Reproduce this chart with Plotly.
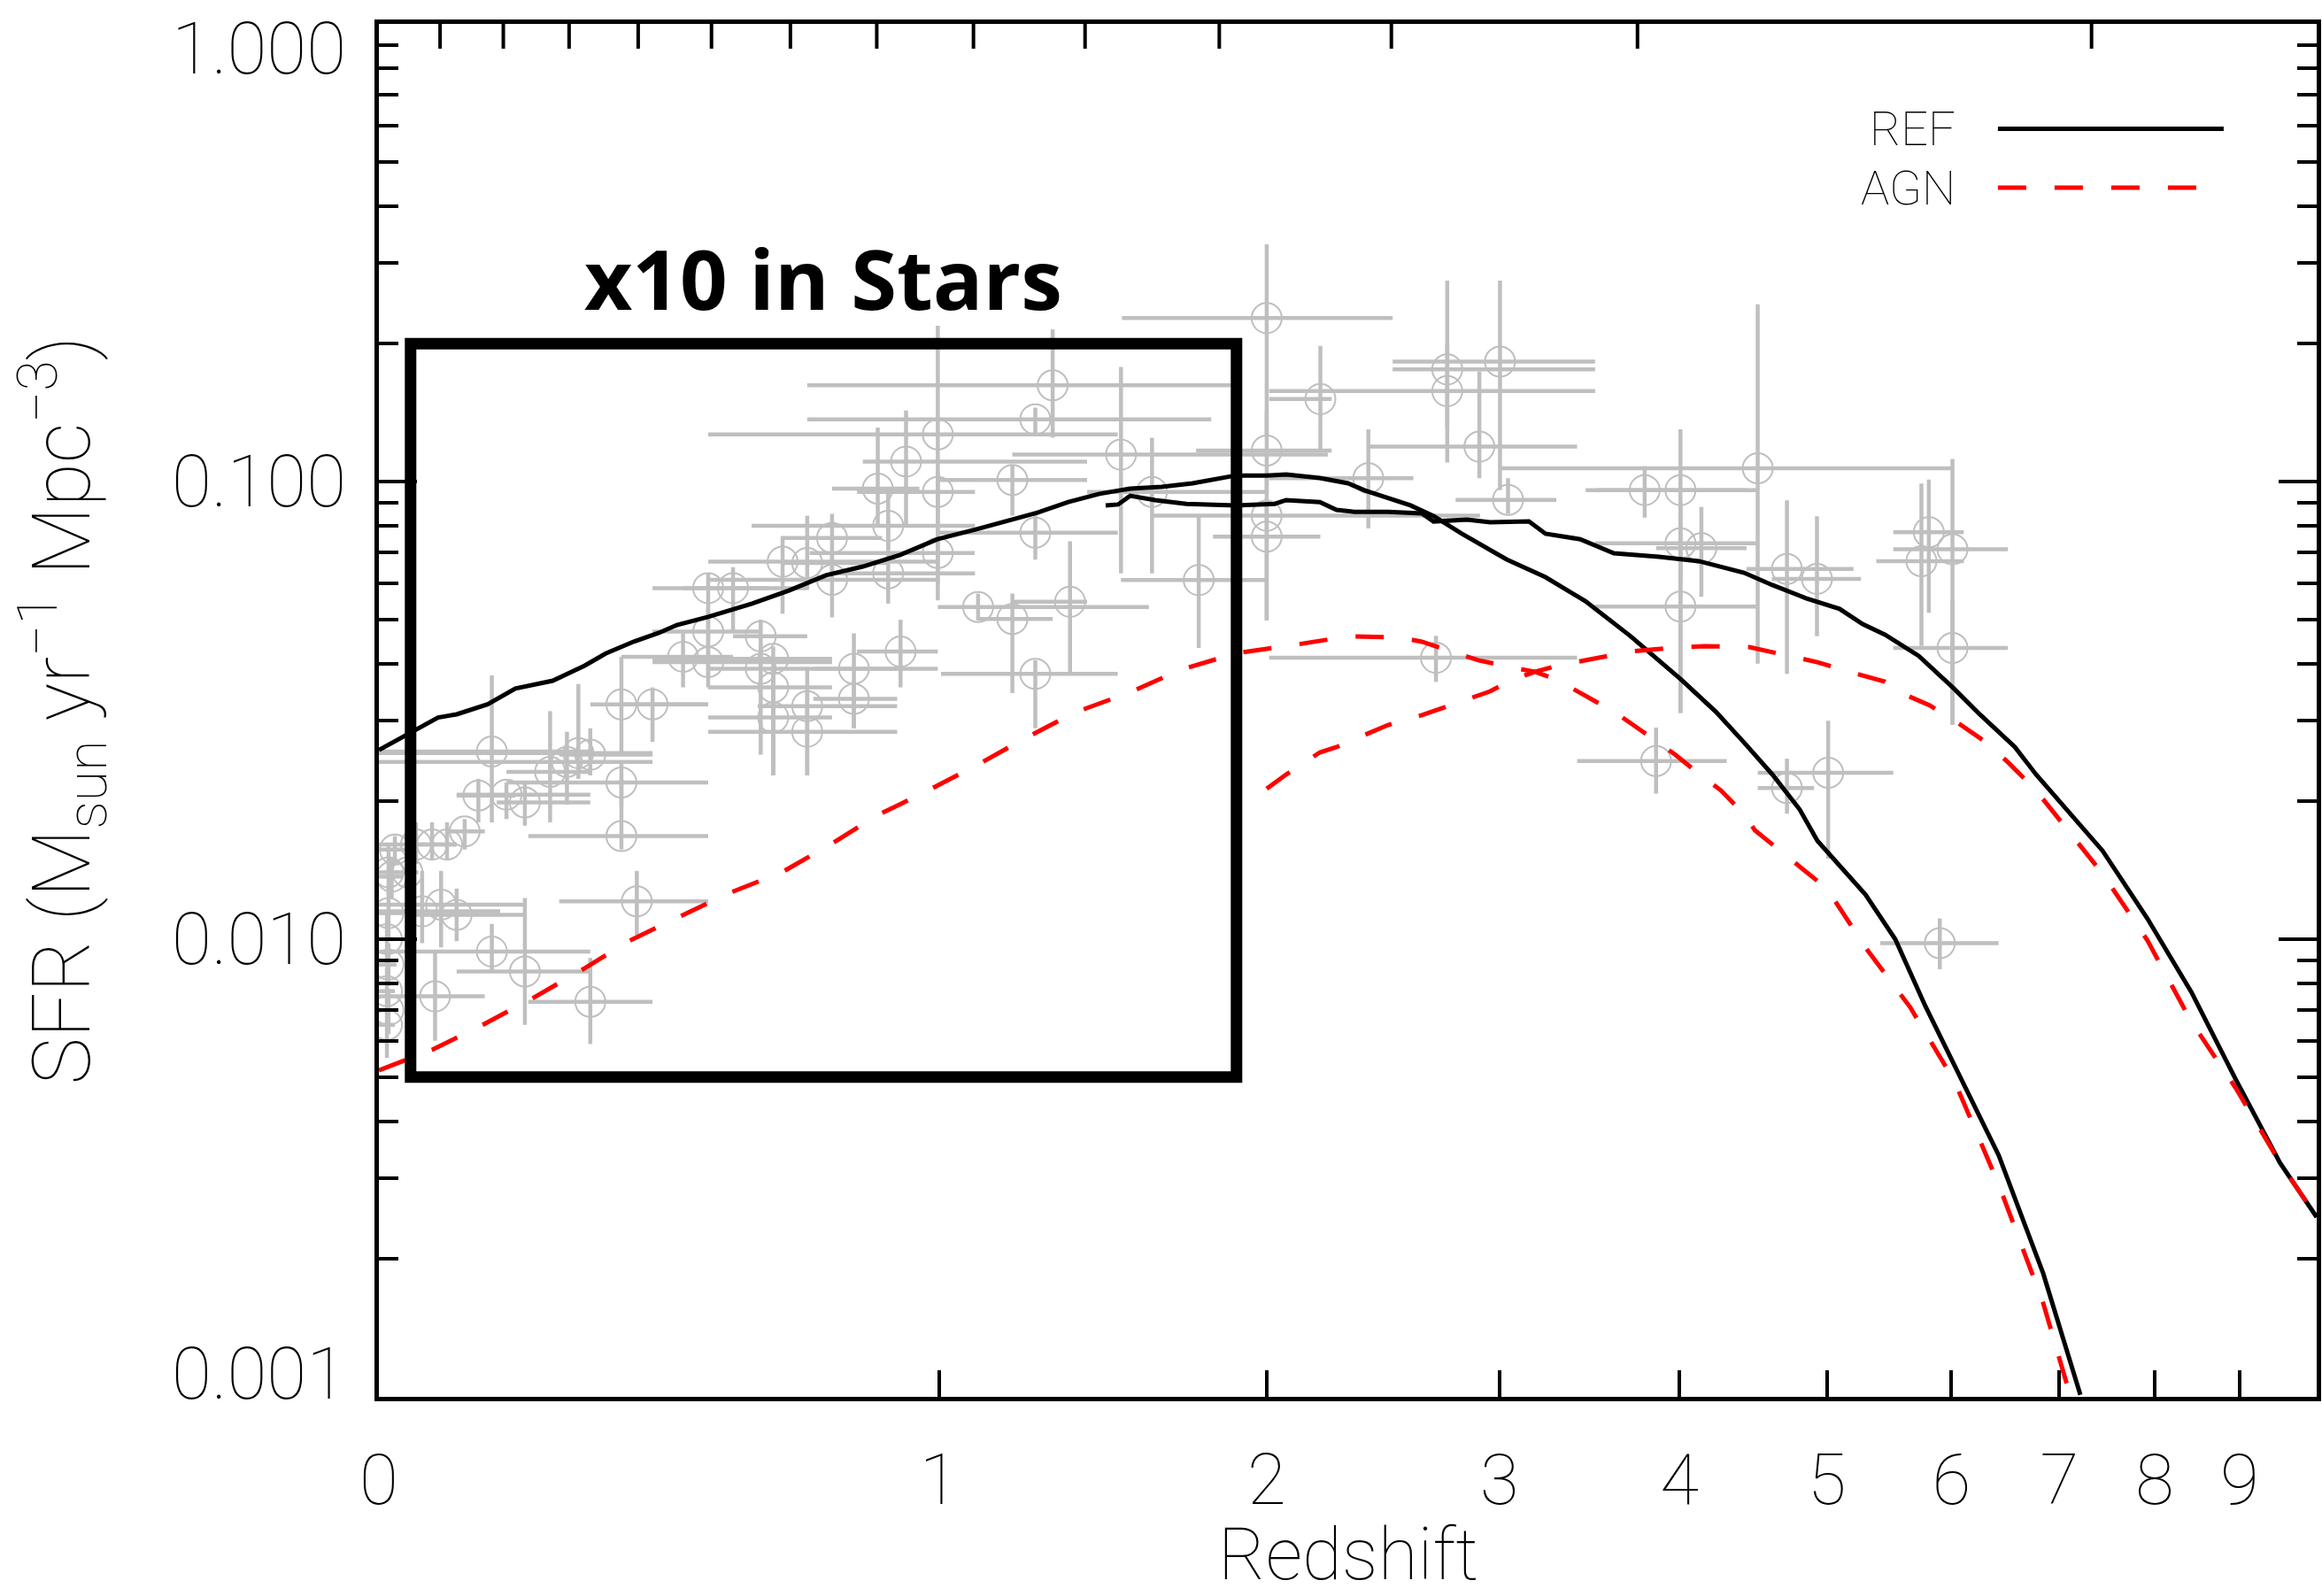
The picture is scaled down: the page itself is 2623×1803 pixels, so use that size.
import numpy as np
import plotly.graph_objects as go

# ---------------- simulation curves: cosmic star formation rate density ----------------
# REF, run sampled from z = 0
ref_a_z = [0, 0.044, 0.076, 0.101, 0.144, 0.184, 0.240, 0.290, 0.324, 0.371, 0.414, 0.446,
           0.503, 0.587, 0.661, 0.739, 0.820, 0.906, 0.996, 1.093, 1.191, 1.259, 1.347, 1.439,
           1.534, 1.634, 1.737, 1.887, 2.0, 2.073, 2.204, 2.318, 2.388, 2.486, 2.584, 2.688,
           2.819, 3.037, 3.236, 3.450, 3.707, 4.011, 4.230, 4.416, 4.609, 4.802, 4.931, 5.295,
           5.53, 5.779, 6.422, 6.842, 7.211]
ref_a_sfr = [0.0259, 0.0285, 0.0305, 0.0310, 0.0326, 0.0353, 0.0367, 0.0396, 0.0421, 0.0447,
             0.0467, 0.0486, 0.0506, 0.0541, 0.0578, 0.0624, 0.0652, 0.0691, 0.0748, 0.0786,
             0.0826, 0.0855, 0.0902, 0.0940, 0.0965, 0.0974, 0.0991, 0.1031, 0.1031, 0.1036,
             0.1018, 0.0991, 0.0956, 0.0923, 0.0887, 0.0841, 0.0769, 0.0676, 0.0618, 0.0548,
             0.0459, 0.0369, 0.0314, 0.0269, 0.0229, 0.0192, 0.0164, 0.0125, 0.0100, 0.00713,
             0.00337, 0.00186, 0.00101]

# REF, high-redshift run
ref_b_z = [1.458, 1.496, 1.534, 1.613, 1.716, 1.887, 2.030, 2.073, 2.204, 2.271, 2.343, 2.486,
           2.635, 2.688, 2.844, 2.955, 3.150, 3.236, 3.422, 3.610, 3.874, 4.121, 4.416, 4.609,
           4.847, 5.095, 5.272, 5.447, 5.722, 6.016, 6.256, 6.572, 6.773, 7.44, 7.92, 8.421,
           8.954, 9.51, 10.0]
ref_b_sfr = [0.0887, 0.0891, 0.0931, 0.0911, 0.0894, 0.0887, 0.0894, 0.0911, 0.0902, 0.0867,
             0.0859, 0.0859, 0.0852, 0.0818, 0.0826, 0.0815, 0.0818, 0.0769, 0.0748, 0.0697,
             0.0685, 0.0670, 0.0632, 0.0594, 0.0556, 0.0527, 0.0488, 0.0463, 0.0416, 0.0354,
             0.0309, 0.0263, 0.0229, 0.0156, 0.0111, 0.00766, 0.00493, 0.00325, 0.00247]

# AGN, run sampled from z = 0
agn_a_z = [0, 0.068, 0.139, 0.211, 0.290, 0.360, 0.446, 0.538, 0.648, 0.752, 0.849, 0.965,
           1.093, 1.225, 1.365, 1.534, 1.695, 1.887, 2.0, 2.073, 2.318, 2.536, 2.635, 2.789,
           2.898, 3.064, 3.181, 3.297, 3.422, 3.610, 3.707, 3.874, 3.977, 4.156, 4.264, 4.416,
           4.489, 4.799, 5.0, 5.295, 5.650, 6.026, 6.422, 6.843, 7.106]
agn_a_sfr = [0.00517, 0.00573, 0.00652, 0.00745, 0.00864, 0.00987, 0.01113, 0.01255, 0.01403,
             0.01618, 0.01857, 0.02095, 0.02393, 0.02749, 0.03127, 0.03464, 0.03873, 0.04214,
             0.04310, 0.04368, 0.04588, 0.04567, 0.04466, 0.04232, 0.04068, 0.03925, 0.03839,
             0.03687, 0.03449, 0.03141, 0.02965, 0.02688, 0.02525, 0.02249, 0.02113, 0.01874,
             0.01730, 0.01443, 0.0129, 0.00958, 0.00711, 0.00490, 0.00291, 0.00160, 0.00101]

# AGN, high-redshift run
agn_b_z = [2.0, 2.073, 2.204, 2.271, 2.388, 2.486, 2.635, 2.713, 2.873, 2.955, 3.064, 3.181,
           3.297, 3.481, 3.707, 3.945, 4.156, 4.451, 4.683, 4.931, 5.223, 5.447, 5.632, 5.816,
           6.059, 6.311, 6.514, 6.773, 7.44, 7.92, 8.42, 8.954, 9.51, 10.0]
agn_b_sfr = [0.02133, 0.02290, 0.02559, 0.02629, 0.02797, 0.02938, 0.03086, 0.03184, 0.03373,
             0.03480, 0.03687, 0.03839, 0.03959, 0.04085, 0.04252, 0.04329, 0.04368, 0.04348,
             0.04195, 0.04029, 0.03803, 0.03654, 0.03402, 0.03241, 0.02965, 0.02688, 0.02427,
             0.02113, 0.0139, 0.00995, 0.0066, 0.00472, 0.00325, 0.00247]

# ---------------- observational compilation ----------------
obs_z = [0.150, 0.131, 0.171, 0.198, 0.236, 0.262, 0.280, 0.299, 0.350, 0.350, 0.350, 0.403,
         0.376, 0.150, 0.198, 0.299, 0.072, 0.055, 0.080, 0.101, 0.016, 0.047, 0.068, 0.088,
         0.112, 0.020, 0.457, 0.503, 0.604, 0.629, 0.629, 0.629, 0.699, 0.699, 0.800, 0.800,
         0.907, 1.253, 0.604,
         0.012, 0.012, 0.010, 0.012, 0.010, 0.012, 0.010, 0.036,
         1.302, 1.253, 0.997, 1.505, 1.603, 1.190, 0.920, 0.997, 0.854, 1.253, 1.758, 1.099,
         1.190, 1.352, 0.878, 0.878, 0.752, 0.699, 0.648, 0.503, 0.550, 0.752, 0.503, 0.997,
         2.000, 2.000, 2.000, 2.000, 2.206, 2.402, 2.751, 2.751, 3.004, 2.903, 3.044, 2.699,
         3.789, 4.006, 4.508, 4.006, 4.137, 4.006, 4.711, 4.927, 5.807, 5.745, 6.009, 6.009,
         3.857, 4.711, 5.010, 5.900]
obs_sfr = [0.0257, 0.0206, 0.0207, 0.0199, 0.0232, 0.0244, 0.0255, 0.0253, 0.0220, 0.0168,
           0.0326, 0.0326, 0.0121, 0.0094, 0.0085, 0.0073, 0.0075, 0.0115, 0.0119, 0.0113,
           0.0137, 0.0161, 0.0161, 0.0161, 0.0172, 0.0157, 0.0414, 0.0403, 0.0390, 0.0410,
           0.0355, 0.0305, 0.0323, 0.0284, 0.0390, 0.0335, 0.0425, 0.0380, 0.0459,
           0.0140, 0.0114, 0.0100, 0.0088, 0.0077, 0.0070, 0.0065, 0.0140,
           0.1623, 0.1368, 0.1268, 0.1145, 0.0949, 0.1008, 0.1106, 0.0949, 0.0965, 0.0773,
           0.0609, 0.0532, 0.0501, 0.0546, 0.0800, 0.0630, 0.0753, 0.0664, 0.0668, 0.0585,
           0.0585, 0.0610, 0.0470, 0.0698,
           0.2276, 0.1169, 0.0842, 0.0758, 0.1514, 0.1017, 0.1758, 0.1576, 0.1829, 0.1192,
           0.0912, 0.0412, 0.0958, 0.0958, 0.1069, 0.0733, 0.0715, 0.0533, 0.0644, 0.0613,
           0.0775, 0.0670, 0.0711, 0.0433, 0.0245, 0.0214, 0.0231, 0.0098]
obs_z_lo = [0.0, 0.101, 0.101, 0.157, 0.171, 0.0, 0.0, 0.250, 0.171, 0.203, 0.299, 0.350,
            0.250, 0.0, 0.101, 0.203, 0.0, 0.0, 0.0, 0.047, 0.0, 0.0, 0.047, 0.055, 0.088,
            0.0, 0.350, 0.403, 0.503, 0.403, 0.503, 0.503, 0.598, 0.503, 0.712, 0.712, 0.807,
            1.005, 0.550,
            0.0, 0.0, 0.0, 0.0, 0.0, 0.0, 0.0, 0.020,
            0.699, 0.699, 0.503, 1.190, 1.402, 0.997, 0.820, 0.807, 0.752, 0.997, 1.505, 0.997,
            1.099, 1.190, 0.586, 0.752, 0.648, 0.648, 0.503, 0.403, 0.457, 0.503, 0.403, 0.704,
            1.508, 1.749, 1.599, 1.807, 2.009, 2.009, 2.506, 2.009, 2.506, 2.402, 2.790, 2.009,
            3.452, 3.514, 3.004, 3.504, 3.857, 3.504, 4.432, 4.605, 5.514, 5.378, 5.514, 5.514,
            3.405, 4.508, 4.508, 5.410]
obs_z_hi = [0.299, 0.184, 0.299, 0.299, 0.299, 0.403, 0.403, 0.403, 0.503, 0.503, 0.503, 0.503,
            0.503, 0.299, 0.299, 0.403, 0.140, 0.162, 0.198, 0.198, 0.030, 0.055, 0.101, 0.101,
            0.140, 0.047, 0.550, 0.752, 0.907, 0.752, 0.752, 0.752, 0.899, 0.899, 0.997, 0.899,
            0.997, 1.495, 0.699,
            0.025, 0.030, 0.020, 0.022, 0.020, 0.022, 0.020, 0.050,
            1.876, 1.801, 1.495, 2.236, 2.000, 1.402, 1.402, 1.091, 0.952, 1.495, 2.000, 1.593,
            1.302, 1.402, 1.091, 1.091, 0.864, 0.880, 0.997, 0.620, 0.699, 0.997, 0.604, 1.090,
            2.506, 2.251, 2.906, 2.206, 2.251, 2.597, 3.504, 3.504, 3.504, 3.405, 3.293, 3.405,
            4.432, 4.508, 6.009, 4.508, 4.432, 4.508, 5.201, 5.259, 6.108, 6.108, 6.507, 6.507,
            4.301, 4.906, 5.514, 6.420]
obs_sfr_lo = [0.0180, 0.0180, 0.0183, 0.0177, 0.0180, 0.0197, 0.0224, 0.0228, 0.0195, 0.0157,
              0.0257, 0.0270, 0.0102, 0.0085, 0.0065, 0.0059, 0.0060, 0.0098, 0.0096, 0.0099,
              0.0123, 0.0146, 0.0149, 0.0149, 0.0157, 0.0146, 0.0355, 0.0355, 0.0253, 0.0228,
              0.0228, 0.0228, 0.0228, 0.0228, 0.0289, 0.0289, 0.0355, 0.0289, 0.0400,
              0.0125, 0.0100, 0.0088, 0.0079, 0.0069, 0.0062, 0.0055, 0.0125,
              0.1247, 0.1268, 0.0550, 0.0630, 0.0630, 0.0842, 0.0800, 0.0760, 0.0800, 0.0675,
              0.0433, 0.0497, 0.0345, 0.0378, 0.0710, 0.0541, 0.0630, 0.0580, 0.0514, 0.0480,
              0.0470, 0.0505, 0.0378, 0.0600,
              0.1253, 0.0940, 0.0497, 0.0497, 0.1170, 0.0790, 0.1100, 0.1300, 0.0958, 0.1017,
              0.0850, 0.0365, 0.0834, 0.0312, 0.0400, 0.0600, 0.0560, 0.0312, 0.0380, 0.0459,
              0.0517, 0.0437, 0.0294, 0.0294, 0.0208, 0.0188, 0.0150, 0.0086]
obs_sfr_hi = [0.0377, 0.0224, 0.0220, 0.0222, 0.0315, 0.0284, 0.0361, 0.0289, 0.0244, 0.0224,
              0.0414, 0.0355, 0.0141, 0.0108, 0.0123, 0.0091, 0.0094, 0.0141, 0.0141, 0.0129,
              0.0151, 0.0180, 0.0180, 0.0180, 0.0183, 0.0168, 0.0466, 0.0474, 0.0436, 0.0436,
              0.0393, 0.0374, 0.0393, 0.0349, 0.0466, 0.0367, 0.0499, 0.0407, 0.0499,
              0.0160, 0.0130, 0.0115, 0.0098, 0.0087, 0.0078, 0.0072, 0.0155,
              0.2150, 0.1450, 0.2190, 0.1780, 0.1247, 0.1087, 0.1430, 0.1050, 0.1312, 0.0857,
              0.0842, 0.0569, 0.0569, 0.0740, 0.0949, 0.0828, 0.0850, 0.0842, 0.0760, 0.0630,
              0.0650, 0.0700, 0.0532, 0.0760,
              0.3300, 0.1430, 0.1040, 0.0921, 0.1979, 0.1300, 0.2749, 0.2000, 0.2749, 0.1740,
              0.1017, 0.0460, 0.1080, 0.1300, 0.2440, 0.0900, 0.0880, 0.0700, 0.0910, 0.0840,
              0.1010, 0.0990, 0.1120, 0.0550, 0.0290, 0.0248, 0.0300, 0.0111]

# region highlighted by the "x10 in Stars" box
box_z = [0.04, 1.89]
box_sfr = [0.005, 0.2]

# axis tick values and labels
x_tick_z = [0, 1, 2, 3, 4, 5, 6, 7, 8, 9]
y_major = [0.001, 0.01, 0.1, 1.0]
y_major_text = ["0.001", "0.010", "0.100", "1.000"]
y_minor = [m * 10.0 ** e for e in (-3, -2, -1) for m in range(2, 10)]

# top axis: lookback time ticks (Gyr), flat LCDM (WMAP3-like)
lookback_gyr = list(range(1, 14))
H0, OMEGA_M, OMEGA_L = 73.0, 0.238, 0.762
zgrid = np.linspace(0.0, 30.0, 300001)
integ = 1.0 / ((1.0 + zgrid) * np.sqrt(OMEGA_M * (1.0 + zgrid) ** 3 + OMEGA_L))
t_lb = (977.8 / H0) * np.concatenate(
    [[0.0], np.cumsum(0.5 * (integ[1:] + integ[:-1]) * np.diff(zgrid))])
z_top = [float(v) for v in np.interp(lookback_gyr, t_lb, zgrid)]

GREY = "#bfbfbf"
FONT = "Roboto"
FONT_W = 100
Y_RANGE = [-3.0, 0.0]
PX_PER_DECADE = (1803 - 27 - 225) / (Y_RANGE[1] - Y_RANGE[0])
TOP_TICK_LEN = 28.0


def onep(z):
    return [1.0 + float(v) for v in z]


fig = go.Figure()

# observational points with asymmetric error bars
oz = np.array(obs_z)
osf = np.array(obs_sfr)
fig.add_trace(go.Scatter(
    x=onep(obs_z), y=obs_sfr, mode="markers",
    marker=dict(symbol="circle-open", size=34, color=GREY, line=dict(width=2, color=GREY)),
    error_x=dict(type="data", symmetric=False,
                 array=(np.array(obs_z_hi) - oz).tolist(),
                 arrayminus=(oz - np.array(obs_z_lo)).tolist(),
                 color=GREY, thickness=4.5, width=0),
    error_y=dict(type="data", symmetric=False,
                 array=(np.array(obs_sfr_hi) - osf).tolist(),
                 arrayminus=(osf - np.array(obs_sfr_lo)).tolist(),
                 color=GREY, thickness=4.5, width=0),
    showlegend=False, hoverinfo="skip"))

# simulation curves
for zz, ss in ((ref_a_z, ref_a_sfr), (ref_b_z, ref_b_sfr)):
    fig.add_trace(go.Scatter(x=onep(zz), y=ss, mode="lines",
                             line=dict(color="black", width=5), showlegend=False))
for zz, ss in ((agn_a_z, agn_a_sfr), (agn_b_z, agn_b_sfr)):
    fig.add_trace(go.Scatter(x=onep(zz), y=ss, mode="lines",
                             line=dict(color="#ff0000", width=5, dash="32px,32px"),
                             showlegend=False))

# highlighted box
fig.add_shape(type="rect", xref="x", yref="y",
              x0=1 + box_z[0], x1=1 + box_z[1],
              y0=box_sfr[0], y1=box_sfr[1],
              line=dict(color="black", width=13), layer="above")

# lookback-time ticks hanging from the top axis (no labels)
y_top = 10.0 ** Y_RANGE[1]
y_tick_end = 10.0 ** (Y_RANGE[1] - TOP_TICK_LEN / PX_PER_DECADE)
for zt in z_top:
    fig.add_shape(type="line", xref="x", yref="y",
                  x0=1.0 + zt, x1=1.0 + zt, y0=y_top, y1=y_tick_end,
                  line=dict(color="black", width=4), layer="above")

annotations = []
# box caption
annotations.append(dict(text="x10 in Stars", xref="paper", yref="paper", x=0.2293, y=0.815,
                        xanchor="center", yanchor="middle", showarrow=False,
                        font=dict(family="Open Sans", size=94, color="black", weight=700)))
# y tick labels
for v, t in zip(y_major, y_major_text):
    shift = 0
    if v == 1.0:
        shift = -28
    elif v == 0.001:
        shift = 26
    annotations.append(dict(text=t, xref="paper", yref="y", x=-0.016, y=float(np.log10(v)),
                            xanchor="right", yanchor="middle", yshift=shift, showarrow=False,
                            font=dict(family=FONT, size=82, color="black", weight=FONT_W)))
# axis titles
annotations.append(dict(text="Redshift", xref="paper", yref="paper", x=0.5, y=-0.115,
                        xanchor="center", yanchor="middle", showarrow=False,
                        font=dict(family=FONT, size=82, color="black", weight=FONT_W)))
annotations.append(dict(text="SFR (M<sub>sun</sub> yr<sup>\u22121</sup> Mpc<sup>\u22123</sup>)",
                        xref="paper", yref="paper", x=-0.1635, y=0.5, textangle=-90,
                        xanchor="center", yanchor="middle", showarrow=False,
                        font=dict(family=FONT, size=90, color="black", weight=FONT_W)))
# legend
leg_y = [0.9236, 0.8807]
for t, yy in zip(["REF", "AGN"], leg_y):
    annotations.append(dict(text=t, xref="paper", yref="paper", x=0.8145, y=yy,
                            xanchor="right", yanchor="middle", showarrow=False,
                            font=dict(family=FONT, size=54, color="black", weight=FONT_W)))
fig.add_shape(type="line", xref="paper", yref="paper", x0=0.8355, x1=0.952,
              y0=leg_y[0], y1=leg_y[0], line=dict(color="black", width=5))
fig.add_shape(type="line", xref="paper", yref="paper", x0=0.8355, x1=0.9379,
              y0=leg_y[1], y1=leg_y[1], line=dict(color="#ff0000", width=5, dash="32px,32px"))

x_range = [0.0, float(np.log10(11.0))]
fig.update_layout(
    width=2623, height=1803,
    margin=dict(l=428, r=6, t=27, b=225),
    plot_bgcolor="white", paper_bgcolor="white",
    showlegend=False,
    annotations=annotations,
    xaxis=dict(type="log", range=x_range,
               tickmode="array", tickvals=onep(x_tick_z), ticktext=[str(v) for v in x_tick_z],
               ticks="inside", ticklen=30, tickwidth=4, tickcolor="black",
               showline=True, linewidth=5, linecolor="black", mirror=True,
               showgrid=False, zeroline=False, automargin=False,
               ticklabelstandoff=20,
               tickfont=dict(family=FONT, size=80, color="black", weight=FONT_W)),
    yaxis=dict(type="log", range=Y_RANGE,
               tickmode="array", tickvals=y_major, showticklabels=False,
               ticks="inside", ticklen=43, tickwidth=4, tickcolor="black",
               minor=dict(tickmode="array", tickvals=y_minor, ticks="inside",
                          ticklen=22, tickwidth=4, tickcolor="black", showgrid=False),
               showline=True, linewidth=5, linecolor="black", mirror="ticks",
               showgrid=False, zeroline=False, automargin=False),
)

fig.write_html("out.html")
